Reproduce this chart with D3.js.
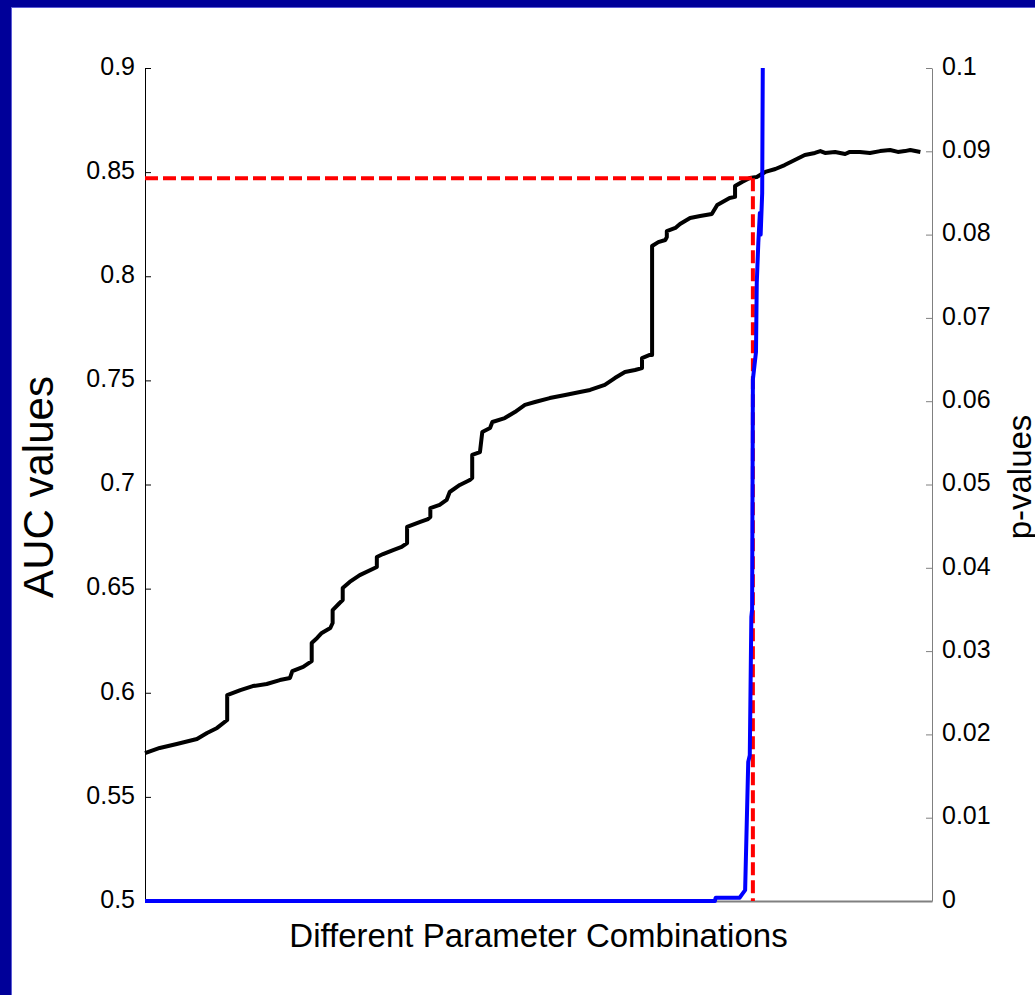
<!DOCTYPE html>
<html>
<head>
<meta charset="utf-8">
<script src="https://cdn.jsdelivr.net/npm/d3@7"></script>
<style>
  body { margin: 0; background: #fff; }
  text { font-family: Arial, "Liberation Sans", sans-serif; }
</style>
</head>
<body>
<div id="app"></div>
<script>
const d3 = window.d3;

// AUC per parameter combination (sorted)
const aucCombos = [0, 19, 41, 67, 80, 93, 106, 106, 123, 139, 157, 174, 187, 190, 204, 215, 215, 222, 228, 239,
  242, 242, 251, 255, 255, 264, 277, 299, 299, 307, 320, 331, 338, 338, 355, 365, 368, 368, 380, 389,
  393, 406, 419, 422, 422, 432, 435, 445, 448, 464, 477, 490, 503, 522, 542, 561, 574, 593, 606, 619,
  632, 641, 641, 651, 654, 654, 662, 671, 673, 673, 684, 690, 703, 716, 731, 738, 754, 761, 761, 770,
  780, 789, 800, 813, 825, 838, 851, 864, 871, 877, 890, 903, 909, 922, 935, 948, 961, 971, 980, 987, 1000];
const aucValues = [0.5710, 0.5735, 0.5754, 0.5778, 0.5807, 0.5831, 0.5869, 0.5989, 0.6013, 0.6032, 0.6042, 0.6061, 0.6071, 0.6104, 0.6124, 0.6152, 0.6239, 0.6263, 0.6287, 0.6311,
  0.6335, 0.6397, 0.6431, 0.6445, 0.6503, 0.6532, 0.6565, 0.6604, 0.6652, 0.6666, 0.6685, 0.6700, 0.6719, 0.6796, 0.6820, 0.6834, 0.6844, 0.6887, 0.6902, 0.6926,
  0.6964, 0.6998, 0.7022, 0.7031, 0.7142, 0.7156, 0.7252, 0.7271, 0.7300, 0.7319, 0.7348, 0.7382, 0.7396, 0.7415, 0.7430, 0.7444, 0.7454, 0.7478, 0.7511, 0.7540,
  0.7550, 0.7559, 0.7607, 0.7622, 0.7622, 0.8145, 0.8164, 0.8174, 0.8188, 0.8217, 0.8232, 0.8251, 0.8280, 0.8289, 0.8299, 0.8342, 0.8376, 0.8381, 0.8433, 0.8453,
  0.8472, 0.8477, 0.8501, 0.8515, 0.8534, 0.8558, 0.8582, 0.8592, 0.8601, 0.8592, 0.8597, 0.8587, 0.8597, 0.8597, 0.8592, 0.8601, 0.8606, 0.8597, 0.8601, 0.8606, 0.8597];

// p-values for the same combinations
const pCombos = [0, 735, 736, 767, 770, 774, 778, 780, 782, 783, 784, 788, 789, 791, 793, 794, 796, 797, 800, 850, 1000];
const pValues = [0, 0, 0.0004, 0.0004, 0.0008, 0.0013, 0.0167, 0.0175, 0.0341, 0.035, 0.0626, 0.0659, 0.0742, 0.079, 0.0826, 0.080, 0.085, 0.105, 0.16, 0.35, 0.9];

// cut-off where p crosses 0.05
const cutCombo = 784;
const cutAuc = 0.847;

const aucTicks = [0.5, 0.55, 0.6, 0.65, 0.7, 0.75, 0.8, 0.85, 0.9];
const pTicks = [0, 0.01, 0.02, 0.03, 0.04, 0.05, 0.06, 0.07, 0.08, 0.09, 0.1];

const W = 1035, H = 995;
const margin = { top: 68, right: 103, bottom: 94, left: 145 };
const iw = W - margin.left - margin.right;
const ih = H - margin.top - margin.bottom;

const x = d3.scaleLinear().domain([0, 1015]).range([0, iw]);
const y = d3.scaleLinear().domain([0.5, 0.9]).range([ih, 0]);
const yP = d3.scaleLinear().domain([0, 0.1]).range([ih, 0]);
const fmt = d3.format(".2~f");

const svg = d3.select("#app").append("svg").attr("width", W).attr("height", H);

// slide frame
svg.append("rect").attr("x", 0).attr("y", 0).attr("width", W).attr("height", 7).attr("fill", "#000099");
svg.append("rect").attr("x", 0).attr("y", 0).attr("width", 11).attr("height", H).attr("fill", "#000099");
svg.append("line").attr("x1", 11.5).attr("x2", 11.5).attr("y1", 7).attr("y2", H).attr("stroke", "#5c5cd6");
svg.append("line").attr("x1", 11).attr("x2", W).attr("y1", 7.5).attr("y2", 7.5).attr("stroke", "#5c5cd6");

const g = svg.append("g").attr("transform", `translate(${margin.left},${margin.top})`);

g.append("clipPath").attr("id", "plot-clip")
  .append("rect").attr("x", 0).attr("y", 0).attr("width", iw).attr("height", ih + 3);

// bottom axis (no ticks)
const xAxis = g.append("g").attr("transform", `translate(0,${ih})`)
  .call(d3.axisBottom(x).tickValues([]).tickSizeOuter(0));
xAxis.select(".domain").attr("stroke", "#808080").attr("stroke-width", 2);

// left axis
const yAxis = g.append("g")
  .call(d3.axisLeft(y).tickValues(aucTicks).tickFormat(fmt).tickSizeInner(-6).tickSizeOuter(0).tickPadding(10));
yAxis.select(".domain").attr("stroke", "#000");
yAxis.selectAll("text").attr("font-size", 25).attr("font-family", "Arial, 'Liberation Sans', sans-serif").attr("fill", "#000").attr("dy", "0.25em");

// right axis
const pAxis = g.append("g").attr("transform", `translate(${iw},0)`)
  .call(d3.axisRight(yP).tickValues(pTicks).tickFormat(fmt).tickSizeInner(-6).tickSizeOuter(0).tickPadding(10));
pAxis.select(".domain").attr("stroke", "#808080");
pAxis.selectAll(".tick line").attr("stroke", "#808080");
pAxis.selectAll("text").attr("font-size", 25).attr("font-family", "Arial, 'Liberation Sans', sans-serif").attr("fill", "#000").attr("dy", "0.25em");

// AUC curve
const aucLine = d3.line().x((d) => x(d[0])).y((d) => y(d[1]));
g.append("path")
  .datum(d3.zip(aucCombos, aucValues))
  .attr("d", aucLine)
  .attr("fill", "none")
  .attr("stroke", "#000")
  .attr("stroke-width", 4)
  .attr("stroke-linejoin", "round");

// threshold lines
const red = g.append("g").attr("fill", "none").attr("stroke", "#ff0000").attr("stroke-width", 4).attr("stroke-dasharray", "13,5");
red.append("line").attr("x1", x(0)).attr("x2", x(cutCombo)).attr("y1", y(cutAuc)).attr("y2", y(cutAuc));
red.append("line").attr("x1", x(cutCombo)).attr("x2", x(cutCombo)).attr("y1", y(cutAuc)).attr("y2", y(0.5));

// p-value curve
const pLine = d3.line().x((d) => x(d[0])).y((d) => yP(d[1]));
g.append("path")
  .datum(d3.zip(pCombos, pValues))
  .attr("clip-path", "url(#plot-clip)")
  .attr("d", pLine)
  .attr("fill", "none")
  .attr("stroke", "#0000ff")
  .attr("stroke-width", 4)
  .attr("stroke-linejoin", "round");

// axis titles
svg.append("text")
  .attr("transform", `translate(${margin.left + iw / 2},947)`)
  .attr("text-anchor", "middle")
  .attr("font-size", 33)
  .text("Different Parameter Combinations");

svg.append("text")
  .attr("transform", `translate(53,487) rotate(-90)`)
  .attr("text-anchor", "middle")
  .attr("font-size", 42)
  .text("AUC values");

svg.append("text")
  .attr("transform", `translate(1031,477) rotate(-90)`)
  .attr("text-anchor", "middle")
  .attr("font-size", 33)
  .text("p-values");
</script>
</body>
</html>
